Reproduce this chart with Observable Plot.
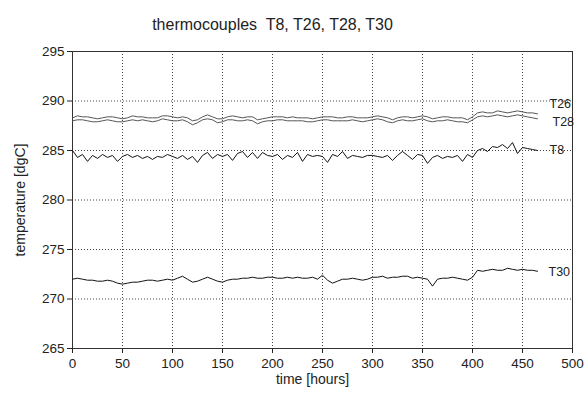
<!DOCTYPE html>
<html>
<head>
<meta charset="utf-8">
<script src="https://cdn.jsdelivr.net/npm/d3@7"></script>
<script src="https://cdn.jsdelivr.net/npm/@observablehq/plot@0.6"></script>
<style>
  html, body { margin: 0; padding: 0; background: #fff; }
  svg { font-family: "Liberation Sans", Arial, sans-serif; }
</style>
</head>
<body>
<div id="chart"></div>
<script>
const hours = [0,5,10,15,20,25,30,35,40,45,50,55,60,65,70,75,80,85,90,95,
  100,105,110,115,120,125,130,135,140,145,150,155,160,165,170,175,180,185,190,195,
  200,205,210,215,220,225,230,235,240,245,250,255,260,265,270,275,280,285,290,295,
  300,305,310,315,320,325,330,335,340,345,350,355,360,365,370,375,380,385,390,395,
  400,405,410,415,420,425,430,435,440,445,450,455,460,465];

const T8 = [285.0,284.3,284.6,283.9,284.5,284.2,284.6,284.3,284.5,283.9,
  284.4,284.6,284.3,284.5,284.2,284.4,284.1,284.4,284.3,284.6,
  284.4,284.2,284.5,284.1,284.4,283.8,284.5,284.8,284.2,284.6,
  284.4,284.6,284.0,284.7,284.9,284.3,284.8,284.2,284.8,284.5,
  284.4,284.6,284.1,284.5,284.3,284.8,283.9,284.6,284.4,284.5,
  284.4,283.8,284.6,284.4,284.9,284.2,284.5,284.4,284.3,284.5,
  284.5,284.4,284.3,284.5,284.0,284.5,284.9,284.5,284.1,284.6,
  284.5,283.7,284.3,284.5,284.2,284.4,284.3,284.5,283.9,284.6,
  284.3,285.0,285.2,284.9,285.4,285.3,285.6,285.2,285.8,284.7,
  285.3,285.2,285.1,285.0];

const T26 = [288.3,288.5,288.4,288.4,288.3,288.2,288.3,288.4,288.4,288.3,
  288.2,288.3,288.5,288.4,288.4,288.3,288.3,288.3,288.5,288.5,
  288.4,288.3,288.4,288.3,288.0,288.1,288.4,288.6,288.4,288.2,
  288.2,288.4,288.5,288.4,288.3,288.4,288.4,288.1,288.2,288.3,
  288.4,288.4,288.4,288.3,288.4,288.3,288.3,288.3,288.2,288.3,
  288.4,288.4,288.4,288.3,288.3,288.4,288.4,288.3,288.3,288.3,
  288.4,288.5,288.4,288.3,288.1,288.3,288.4,288.4,288.3,288.4,
  288.5,288.4,288.2,288.3,288.4,288.4,288.3,288.3,288.3,288.1,
  288.4,288.8,288.9,288.8,288.8,289.0,288.9,288.8,288.9,289.0,
  288.9,288.8,288.8,288.7];

const T28 = [288.0,288.1,288.1,288.0,287.9,287.9,288.0,288.1,288.0,287.9,
  287.9,288.0,288.1,288.0,288.1,288.0,287.9,288.0,288.2,288.1,
  288.0,288.0,288.1,287.9,287.6,287.8,288.1,288.2,288.1,287.8,
  287.9,288.1,288.1,288.0,288.0,288.1,288.0,287.7,287.9,288.0,
  288.0,288.1,288.1,288.0,288.0,288.0,288.0,287.9,287.9,288.0,
  288.1,288.1,288.0,288.0,288.0,288.0,288.1,288.0,287.9,288.0,
  288.1,288.2,288.1,287.9,287.8,288.0,288.1,288.0,288.0,288.1,
  288.2,288.0,287.9,288.0,288.0,288.1,288.0,287.9,287.9,287.8,
  288.1,288.4,288.5,288.4,288.5,288.6,288.5,288.4,288.5,288.6,
  288.5,288.4,288.3,288.2];

const T30 = [272.0,272.1,272.0,271.9,271.9,271.8,271.8,271.9,271.8,271.6,
  271.5,271.6,271.7,271.7,271.8,271.9,271.9,271.8,271.9,272.0,
  271.9,272.1,272.3,272.0,271.7,271.8,272.0,272.2,272.0,271.8,
  271.7,271.9,272.0,272.0,272.1,272.1,272.2,272.1,272.1,272.2,
  272.2,272.1,272.1,272.2,272.1,272.2,272.1,272.1,272.2,272.0,
  272.4,271.9,271.6,271.8,272.0,272.0,272.1,272.0,271.9,272.0,
  272.2,272.2,272.3,272.1,272.2,272.2,272.3,272.3,272.1,272.2,
  272.1,272.0,271.3,272.0,272.1,272.1,272.2,272.1,272.0,271.9,
  272.2,272.9,272.8,272.9,273.0,272.9,272.9,273.1,273.0,272.9,
  273.0,272.9,272.9,272.8];

const seriesNames = ["T26", "T28", "T8", "T30"];
const seriesValues = {T26, T28, T8, T30};
const xTicks = [0,50,100,150,200,250,300,350,400,450,500];
const yTicks = [265,270,275,280,285,290,295];

const rows = [];
for (const name of seriesNames) {
  seriesValues[name].forEach((v, i) => rows.push({series: name, hour: hours[i], temp: v}));
}
const lastRows = seriesNames.map(name => ({series: name, hour: hours[hours.length - 1], temp: seriesValues[name][hours.length - 1]}));
const labelStyle = {T26: {dx: 12, dy: -10}, T28: {dx: 15, dy: 3}, T8: {dx: 12, dy: -1}, T30: {dx: 11, dy: 1}};
const lineColor = {T26: "#555", T28: "#555", T8: "#111", T30: "#111"};

const chart = Plot.plot({
  width: 586,
  height: 401,
  marginLeft: 72,
  marginRight: 14,
  marginTop: 51,
  marginBottom: 53,
  style: {fontFamily: "'Liberation Sans', Arial, sans-serif", fontSize: "13px", background: "#fff", color: "#222"},
  x: {domain: [0, 500]},
  y: {domain: [265, 295]},
  marks: [
    Plot.gridX(xTicks, {stroke: "#444", strokeOpacity: 1, strokeDasharray: "1,2"}),
    Plot.gridY(yTicks, {stroke: "#444", strokeOpacity: 1, strokeDasharray: "1,2"}),
    Plot.frame({stroke: "#333"}),
    Plot.axisX(xTicks, {tickSize: 5, tickPadding: 5, label: null, fontSize: 13.5}),
    Plot.axisY(yTicks, {tickSize: 5, tickPadding: 3, label: null, fontSize: 13.5}),
    ...seriesNames.map(name => Plot.line(rows.filter(r => r.series === name), {
      x: "hour", y: "temp", stroke: lineColor[name], strokeWidth: 1
    })),
    ...seriesNames.map(name => Plot.text(lastRows.filter(r => r.series === name), {
      x: "hour", y: "temp", text: "series", textAnchor: "start",
      dx: labelStyle[name].dx, dy: labelStyle[name].dy, fontSize: 12.5, fill: "#222"
    })),
    Plot.text(["thermocouples  T8, T26, T28, T30"], {frameAnchor: "top", dy: -33, dx: -50, fontSize: 16, fill: "#222", letterSpacing: "1.1px"}),
    Plot.text(["time [hours]"], {frameAnchor: "bottom", dy: 35, dx: -10, fontSize: 14, fill: "#222", letterSpacing: "1.2px"}),
    Plot.text(["temperature [dgC]"], {frameAnchor: "left", dx: -52, rotate: -90, textAnchor: "middle", fontSize: 14, fill: "#222", letterSpacing: "0.4px"})
  ]
});
document.getElementById("chart").appendChild(chart);
</script>
</body>
</html>
